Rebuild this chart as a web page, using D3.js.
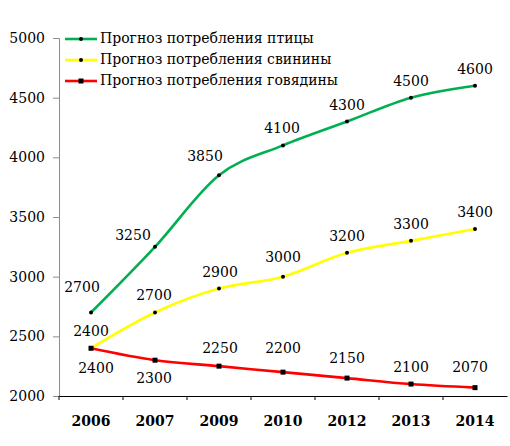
<!DOCTYPE html>
<html>
<head>
<meta charset="utf-8">
<script src="https://cdn.jsdelivr.net/npm/d3@7"></script>
<style>
  body { margin: 0; background: #fff; }
</style>
</head>
<body>
<div id="chart"></div>
<script>
const years = ["2006", "2007", "2009", "2010", "2012", "2013", "2014"];
const poultry = [2700, 3250, 3850, 4100, 4300, 4500, 4600];
const pork = [2400, 2700, 2900, 3000, 3200, 3300, 3400];
const beef = [2400, 2300, 2250, 2200, 2150, 2100, 2070];
const yTicks = [2000, 2500, 3000, 3500, 4000, 4500, 5000];
const names = ["Прогноз потребления птицы", "Прогноз потребления свинины", "Прогноз потребления говядины"];

// label placement (dx, dy from point)
const poultryLbl = [[-9, -20], [-22, -7], [-14, -14], [-1, -12], [0, -12], [0, -12], [0, -12]];
const porkLbl = [[0, -12], [-1, -12], [1, -12], [0, -15], [0, -12], [0, -12], [0, -12]];
const beefLbl = [[5, 25], [-1, 23], [1, -13], [0, -19], [0, -15], [0, -12], [-5, -16]];

const FONT = "'DejaVu Serif', 'Liberation Serif', serif";
const width = 510, height = 446;
const margin = {top: 38, right: 3, bottom: 50, left: 59};

const svg = d3.select("#chart").append("svg")
  .attr("width", width).attr("height", height)
  .attr("font-family", FONT);

const x = d3.scaleBand().domain(years).range([margin.left, width - margin.right]);
const y = d3.scaleLinear().domain([2000, 5000]).range([height - margin.bottom, margin.top]);

// y axis
const ya = svg.append("g")
  .attr("transform", `translate(${margin.left},0)`)
  .call(d3.axisLeft(y).tickValues(yTicks).tickFormat(d3.format("d")).tickSize(6).tickPadding(8));
ya.attr("font-family", FONT).attr("font-size", 14);
ya.select(".domain").attr("stroke", "#8c8c8c");
ya.selectAll(".tick line").attr("stroke", "#8c8c8c");

// x axis
const xa = svg.append("g")
  .attr("transform", `translate(0,${height - margin.bottom})`)
  .call(d3.axisBottom(x).tickSize(4).tickPadding(0).tickSizeOuter(0));
xa.attr("font-family", FONT).attr("font-size", 14).attr("font-weight", "bold");
xa.selectAll(".tick line").remove();
xa.select(".domain").attr("stroke", "#000").attr("stroke-width", 1.2);
// tick marks at band boundaries
xa.selectAll("line.bound")
  .data(years)
  .join("line")
  .attr("class", "bound")
  .attr("x1", d => x(d)).attr("x2", d => x(d))
  .attr("y1", 0).attr("y2", 4)
  .attr("stroke", "#000");
xa.selectAll(".tick text").attr("dy", "1.85em");

const series = [
  {name: names[0], values: poultry, color: "#00b050", marker: "dot", lbl: poultryLbl},
  {name: names[1], values: pork, color: "#ffff00", marker: "dot", lbl: porkLbl},
  {name: names[2], values: beef, color: "#ff0000", marker: "square", lbl: beefLbl}
];

const line = d3.line()
  .x((d, i) => x(years[i]) + x.bandwidth() / 2)
  .y(d => y(d))
  .curve(d3.curveCatmullRom.alpha(0));

series.forEach(s => {
  const g = svg.append("g");
  g.append("path")
    .attr("d", line(s.values))
    .attr("fill", "none")
    .attr("stroke", s.color)
    .attr("stroke-width", 2.6);
  if (s.marker === "dot") {
    g.selectAll("circle").data(s.values).join("circle")
      .attr("cx", (d, i) => x(years[i]) + x.bandwidth() / 2)
      .attr("cy", d => y(d))
      .attr("r", 2)
      .attr("fill", "#000");
  } else {
    g.selectAll("rect").data(s.values).join("rect")
      .attr("x", (d, i) => x(years[i]) + x.bandwidth() / 2 - 2.5)
      .attr("y", d => y(d) - 2.5)
      .attr("width", 5).attr("height", 5)
      .attr("fill", "#000");
  }
  g.selectAll("text").data(s.values).join("text")
    .attr("x", (d, i) => x(years[i]) + x.bandwidth() / 2 + s.lbl[i][0])
    .attr("y", (d, i) => y(d) + s.lbl[i][1])
    .attr("text-anchor", "middle")
    .attr("font-size", 14)
    .text(d => d);
});

// legend
const legend = svg.append("g").attr("transform", "translate(65,39)");
series.forEach((s, i) => {
  const row = legend.append("g").attr("transform", `translate(0,${i * 21})`);
  row.append("line").attr("x1", 0).attr("x2", 32)
    .attr("stroke", s.color).attr("stroke-width", 2.6);
  if (s.marker === "dot") {
    row.append("circle").attr("cx", 16).attr("r", 2).attr("fill", "#000");
  } else {
    row.append("rect").attr("x", 13.5).attr("y", -2.5).attr("width", 5).attr("height", 5).attr("fill", "#000");
  }
  row.append("text").attr("x", 35).attr("dy", "0.32em")
    .attr("font-size", 14).text(s.name);
});
</script>
</body>
</html>
